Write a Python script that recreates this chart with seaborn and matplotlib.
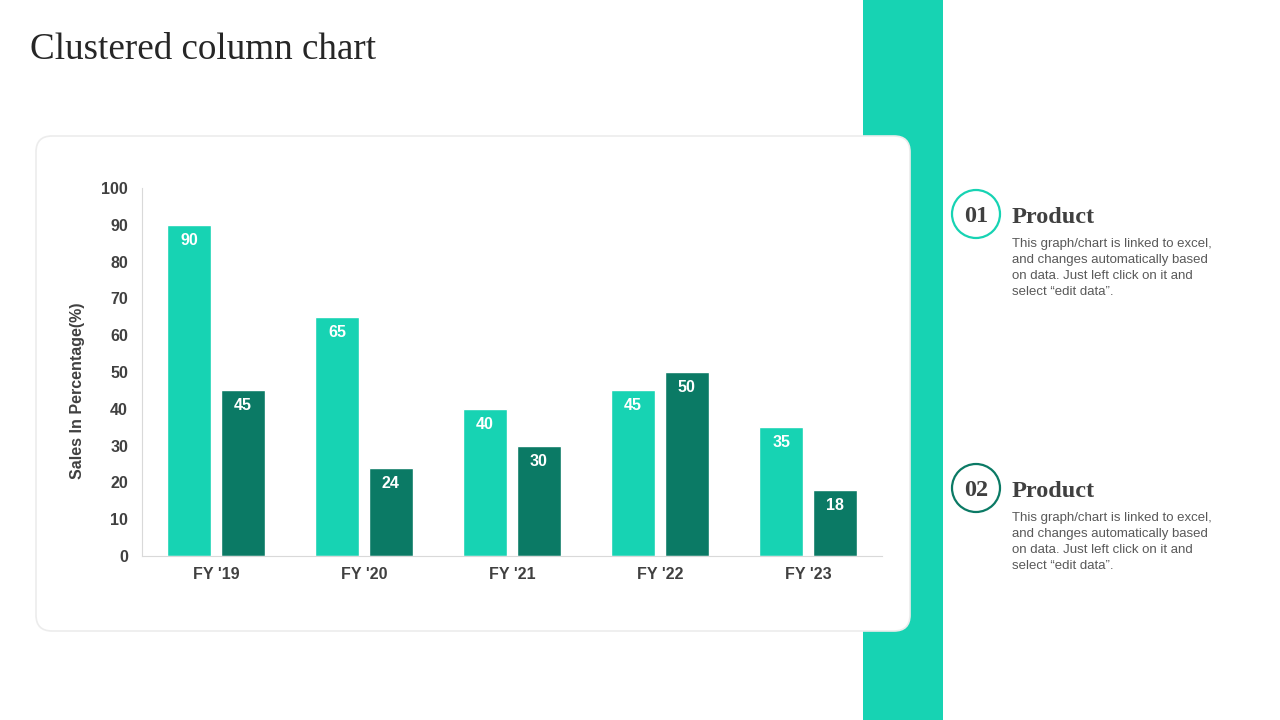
import matplotlib.pyplot as plt
import numpy as np
import seaborn as sns
import pandas as pd
from matplotlib.patches import FancyBboxPatch, Rectangle, Circle

# data
years = ["FY '19", "FY '20", "FY '21", "FY '22", "FY '23"]
product_01 = [90, 65, 40, 45, 35]
product_02 = [45, 24, 30, 50, 18]
series_names = ["Product 01", "Product 02"]
y_ticks = [0, 10, 20, 30, 40, 50, 60, 70, 80, 90, 100]
desc = "This graph/chart is linked to excel,\nand changes automatically based\non data. Just left click on it and\nselect \u201cedit data\u201d."

light = "#17D3B3"
dark = "#0B7A65"

df = pd.DataFrame({
    "year": years * 2,
    "sales": product_01 + product_02,
    "product": [series_names[0]] * len(years) + [series_names[1]] * len(years),
})

sns.set_style("white")
plt.rcParams["font.family"] = ["Liberation Sans", "DejaVu Sans"]

fig = plt.figure(figsize=(12.8, 7.2), dpi=100)
fig.patch.set_facecolor("white")

# background layer in pixel coordinates
bg = fig.add_axes([0, 0, 1, 1], zorder=0)
bg.set_xlim(0, 1280)
bg.set_ylim(720, 0)
bg.axis("off")

bg.add_patch(Rectangle((863, 0), 80, 720, color=light, lw=0))
# card with faint border
bg.add_patch(FancyBboxPatch((36, 136), 874, 495, boxstyle="round,pad=0,rounding_size=16",
                            fc="white", ec="#ececec", lw=1.2))

bg.text(30, 50, "Clustered column chart", family="Liberation Serif", fontsize=26.7,
        color="#262626", va="center", ha="left")

for cy, col, num in [(214, light, "01"), (488, dark, "02")]:
    bg.add_patch(Circle((976, cy), 24, fc="white", ec=col, lw=1.6))
    bg.text(976, cy + 3, num, family="Liberation Serif", fontsize=17.5, fontweight="bold",
            color="#404040", ha="center", va="center")
    bg.text(1012, cy + 3.5, "Product", family="Liberation Serif", fontsize=17.5,
            fontweight="bold", color="#404040", ha="left", va="center")
    bg.text(1012, cy + 23.5, desc, fontsize=9.5, color="#595959", ha="left", va="top",
            linespacing=1.46)

# chart
ax = fig.add_axes([142 / 1280, 1 - 556 / 720, 740 / 1280, 368 / 720], zorder=2)
ax.patch.set_alpha(0)
sns.barplot(data=df, x="year", y="sales", hue="product", palette=[light, dark],
            width=0.725, gap=0.19, saturation=1, legend=False, ax=ax)

for cont in ax.containers:
    for p in cont:
        h = p.get_height()
        ax.text(p.get_x() + p.get_width() / 2, h - 4.2, f"{h:.0f}", color="white",
                fontsize=11.5, fontweight="bold", ha="center", va="center")

ax.set_ylim(0, 100)
ax.set_xlim(-0.5, len(years) - 0.5)
ax.set_yticks(y_ticks)
ax.set_xlabel("")
ax.set_ylabel("Sales In Percentage(%)", fontsize=11.5, fontweight="bold", color="#404040")
ax.yaxis.set_label_coords(-0.077, 0.448)
ax.tick_params(axis="y", length=0, pad=10, labelsize=11.5, labelcolor="#404040")
ax.tick_params(axis="x", length=0, pad=8, labelsize=11.5, labelcolor="#404040")
for lab in ax.get_xticklabels() + ax.get_yticklabels():
    lab.set_fontweight("bold")
sns.despine(ax=ax)
ax.spines["left"].set_color("#d9d9d9")
ax.spines["bottom"].set_color("#d9d9d9")

fig.savefig("out.png", dpi=100)
